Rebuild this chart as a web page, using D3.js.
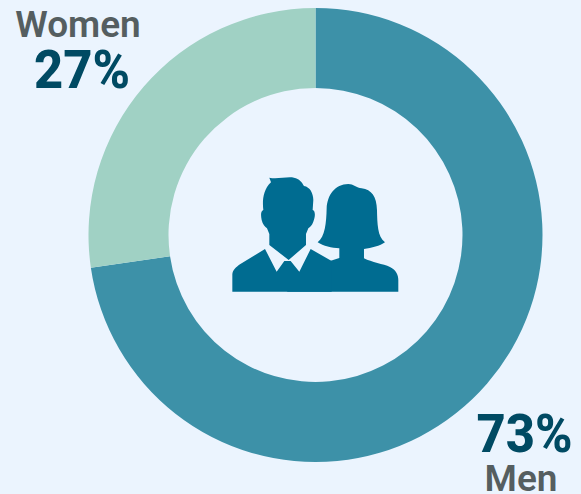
<!DOCTYPE html>
<html>
<head>
<meta charset="utf-8">
<script src="https://cdn.jsdelivr.net/npm/d3@7"></script>
<style>
  html, body { margin: 0; padding: 0; background: #ebf4fe; overflow: hidden; }
  text { font-family: Roboto, sans-serif; }
  .name { font-size: 37px; font-weight: 600; fill: #555e60; }
  .pct { font-size: 53px; font-weight: 800; fill: #004a63; }
</style>
</head>
<body>
<svg width="581" height="494"></svg>
<script>
const categories = ['Men', 'Women'];
const shareLabels = ['73%', '27%'];
// slice sizes as measured on the ring, a little off the printed labels
const shares = [72.7, 27.3];
const sliceColors = ['#3d91a8', '#a0d1c4'];

const svg = d3.select('svg');
const cx = 315.5, cy = 235;
const outerRadius = 227, innerRadius = 147;

const pie = d3.pie().sort(null)(shares);
const arc = d3.arc().innerRadius(innerRadius).outerRadius(outerRadius);

svg.append('g')
  .attr('transform', 'translate(' + cx + ',' + cy + ')')
  .selectAll('path').data(pie).enter().append('path')
  .attr('d', arc)
  .attr('fill', function(d, i) { return sliceColors[i]; });

// Labels
svg.append('text').attr('class', 'name').attr('x', 78).attr('y', 37).attr('text-anchor', 'middle').text(categories[1]);
svg.append('text').attr('class', 'pct').attr('x', 82).attr('y', 88).attr('text-anchor', 'middle')
  .attr('textLength', 96).attr('lengthAdjust', 'spacingAndGlyphs').text(shareLabels[1]);
svg.append('text').attr('class', 'pct').attr('x', 524.5).attr('y', 452).attr('text-anchor', 'middle')
  .attr('textLength', 96).attr('lengthAdjust', 'spacingAndGlyphs').text(shareLabels[0]);
svg.append('text').attr('class', 'name').attr('x', 521).attr('y', 491).attr('text-anchor', 'middle').text(categories[0]);

// People icon
const icon = svg.append('g').attr('transform', 'translate(220,165) scale(0.3333)').attr('fill', '#006c91');
// woman
icon.append('path').attr('d', 'M320,130 C322,90 345,58 385,57 C400,57 410,68 425,70 C455,74 470,95 471,135 C472,175 472,215 495,232 C480,243 455,249 432,252 L432,280 C455,292 490,297 510,306 C528,315 535,330 535,345 L535,380 L200,380 L330,288 L358,279 L358,250 C335,249 310,243 293,232 C315,215 319,175 320,130 Z');
// man torso
icon.append('path').attr('d', 'M37,380 L37,328 C38,315 48,307 60,298 L135,252 L170,320 L193,288 L212,288 L238,320 L272,252 L335,288 L335,380 Z');
// man head
icon.append('path').attr('d', 'M148,38 C170,44 200,34 222,38 C238,41 246,52 252,63 C270,66 280,85 280,105 L278,135 C287,138 286,155 280,170 C276,182 270,186 265,190 L258,207 L258,240 L206,285 L148,240 L148,207 L141,190 C135,186 128,178 125,165 C122,150 122,138 130,135 C127,110 128,75 153,52 Z');
</script>
</body>
</html>
